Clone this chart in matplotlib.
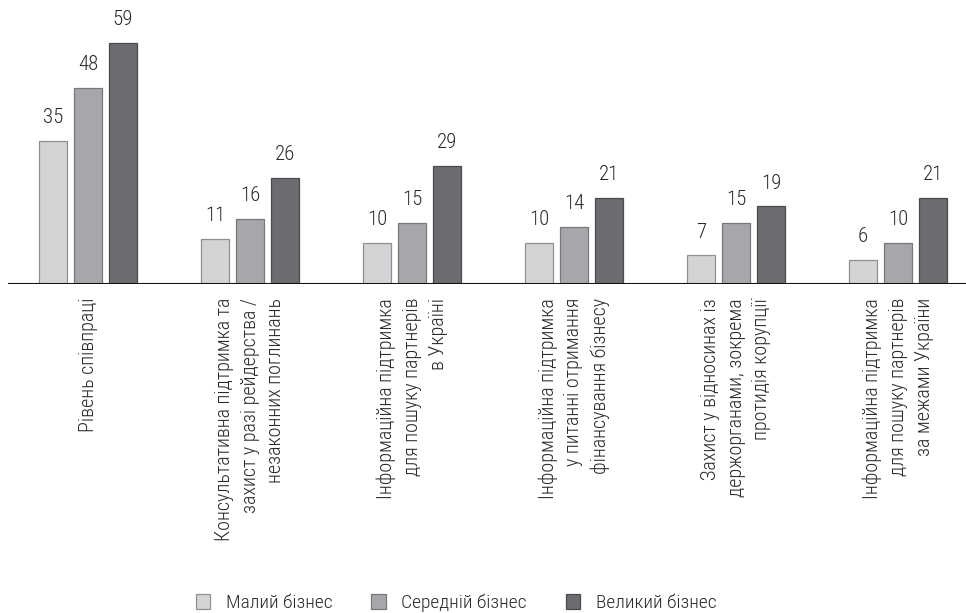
import matplotlib
matplotlib.use("Agg")
import matplotlib.pyplot as plt
from matplotlib import font_manager
from matplotlib.patches import Patch

categories = [
    "Рівень співпраці",
    "Консультативна підтримка та\nзахист у разі рейдерства /\nнезаконних поглинань",
    "Інформаційна підтримка\nдля пошуку партнерів\nв Україні",
    "Інформаційна підтримка\nу питанні отримання\nфінансування бізнесу",
    "Захист у відносинах із\nдержорганами, зокрема\nпротидія корупції",
    "Інформаційна підтримка\nдля пошуку партнерів\nза межами України",
]
series_names = ["Малий бізнес", "Середній бізнес", "Великий бізнес"]
small = [35, 11, 10, 10, 7, 6]
medium = [48, 16, 15, 14, 15, 10]
large = [59, 26, 29, 21, 19, 21]

colors = ["#d3d4d6", "#a6a7aa", "#6b6c70"]
edges = ["#8e8f92", "#77787b", "#4a4b4e"]

fonts = font_manager.fontManager.ttflist
available = {f.name for f in fonts}
fam = None
for cand in ["Roboto Condensed", "Liberation Sans Narrow", "Open Sans Condensed", "Noto Sans"]:
    if cand in available:
        fam = cand
        break
weights = {f.weight for f in fonts if f.name == fam}
wt = "light" if any(w in (300, "light") for w in weights) else "normal"
plt.rcParams["font.family"] = [fam, "DejaVu Sans"]
plt.rcParams["font.weight"] = wt

fig = plt.figure(figsize=(9.66, 6.13), dpi=100)
ax = fig.add_axes([8 / 966, (613 - 284) / 613, 958 / 966, 284 / 613])

n = len(categories)
x = list(range(n))
width = 0.178
offset = 0.216
for k, vals in enumerate([small, medium, large]):
    xs = [xi + (k - 1) * offset for xi in x]
    bars = ax.bar(xs, vals, width=width, color=colors[k], edgecolor=edges[k],
                  linewidth=0.9, label=series_names[k], zorder=2)
    ax.bar_label(bars, padding=10, fontsize=15, color="#2a2a2a")

ax.set_xlim(-0.494, -0.494 + 958 / 162)
ax.set_ylim(0, 69.6)
ax.axis("off")
ax.axhline(0, color="#111111", linewidth=2.2, zorder=3)

for xi, lab in zip(x, categories):
    ax.annotate(lab, xy=(xi, 0), xytext=(0, -10), textcoords="offset points",
                rotation=90, ha="center", va="top", multialignment="right",
                fontsize=14.5, color="#2a2a2a", linespacing=1.45)

handles = [Patch(facecolor=colors[k], edgecolor=edges[k], linewidth=0.9) for k in range(3)]
fig.legend(handles, series_names, loc="center", bbox_to_anchor=(456 / 966, 1 - 603 / 613),
           ncol=3, frameon=False, fontsize=14, handlelength=0.75, handleheight=0.75,
           columnspacing=2.0, handletextpad=0.8, labelcolor="#2a2a2a")

fig.savefig("out.png", dpi=100)
